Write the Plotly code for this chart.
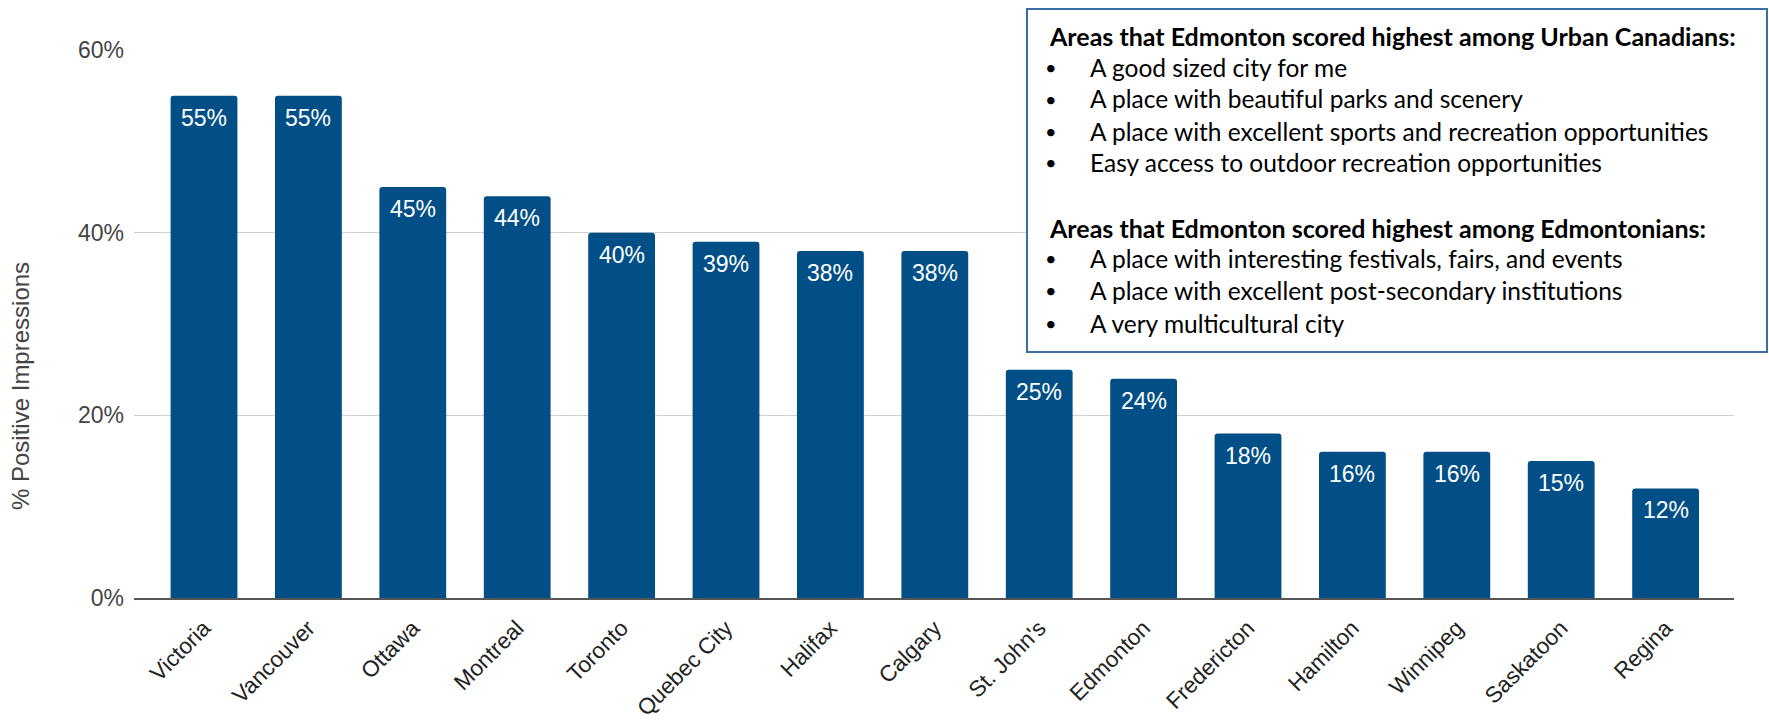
import plotly.graph_objects as go

cities = ["Victoria", "Vancouver", "Ottawa", "Montreal", "Toronto", "Quebec City",
          "Halifax", "Calgary", "St. John's", "Edmonton", "Fredericton", "Hamilton",
          "Winnipeg", "Saskatoon", "Regina"]
values = [55, 55, 45, 44, 40, 39, 38, 38, 25, 24, 18, 16, 16, 15, 12]
y_ticks = [0, 20, 40, 60]
y_tick_labels = ["0%", "20%", "40%", "60%"]

heading1 = "Areas that Edmonton scored highest among Urban Canadians:"
bullets1 = ["A good sized city for me",
            "A place with beautiful parks and scenery",
            "A place with excellent sports and recreation opportunities",
            "Easy access to outdoor recreation opportunities"]
heading2 = "Areas that Edmonton scored highest among Edmontonians:"
bullets2 = ["A place with interesting festivals, fairs, and events",
            "A place with excellent post-secondary institutions",
            "A very multicultural city"]

W, H = 1769, 720
ML, MR, MT, MB = 134, 35, 50, 122
PW, PH = W - ML - MR, H - MT - MB

def px(x):
    return (x - ML) / PW

def py(y):
    return (H - MB - y) / PH

BAR = "#024F88"
AX_FONT = "Liberation Sans, Arial, sans-serif"
BOX_FONT = "Lato, Open Sans, sans-serif"

fig = go.Figure()
fig.add_trace(go.Bar(
    x=cities, y=values,
    marker=dict(color=BAR, cornerradius=3, line=dict(width=0)),
    hoverinfo="skip",
))

annotations = []
for c, v in zip(cities, values):
    annotations.append(dict(x=c, y=v, xref="x", yref="y", text=f"{v}%",
                            showarrow=False, yanchor="middle", yshift=-22,
                            font=dict(family=AX_FONT, size=23, color="white")))

annotations.append(dict(x=px(21), y=py(386), xref="paper", yref="paper",
                        text="% Positive Impressions", textangle=-90,
                        showarrow=False, xanchor="center", yanchor="middle",
                        font=dict(family=AX_FONT, size=24, color="#444444")))

# text box content
lines = [(heading1, 36, True)]
lines += [(b, y, False) for b, y in zip(bullets1, [67, 99, 131, 162])]
lines += [(heading2, 228, True)]
lines += [(b, y, False) for b, y in zip(bullets2, [258, 290, 323])]
for text, y, bold in lines:
    if bold:
        annotations.append(dict(x=px(1047), y=py(y), xref="paper", yref="paper",
                                text=f"<b>{text}</b>", showarrow=False,
                                xanchor="left", yanchor="middle",
                                font=dict(family=BOX_FONT, size=25, color="#000000")))
    else:
        annotations.append(dict(x=px(1051), y=py(y), xref="paper", yref="paper",
                                text="•", showarrow=False,
                                xanchor="center", yanchor="middle",
                                font=dict(family=BOX_FONT, size=20, color="#000000")))
        annotations.append(dict(x=px(1088), y=py(y), xref="paper", yref="paper",
                                text=text, showarrow=False,
                                xanchor="left", yanchor="middle",
                                font=dict(family=BOX_FONT, size=24.5, color="#000000")))

shapes = [dict(type="rect", xref="paper", yref="paper",
               x0=px(1027), x1=px(1767), y0=py(352), y1=py(9),
               fillcolor="white", line=dict(color="#3A6EA5", width=2), layer="above")]

fig.update_layout(
    width=W, height=H,
    margin=dict(l=ML, r=MR, t=MT, b=MB, pad=0),
    paper_bgcolor="white", plot_bgcolor="white",
    showlegend=False,
    bargap=0.36,
    annotations=annotations,
    shapes=shapes,
    xaxis=dict(range=[-0.6705, 14.655], tickangle=-45, showgrid=False,
               showline=True, linecolor="#555555", linewidth=2, automargin=False,
               ticks="", ticklabelstandoff=6,
               tickfont=dict(family=AX_FONT, size=22.5, color="#222222"),
               fixedrange=True),
    yaxis=dict(range=[0, 60], tickvals=y_ticks, ticktext=y_tick_labels,
               showgrid=True, gridcolor="#D0D0D0", gridwidth=1, automargin=False,
               zeroline=False, showline=False, ticks="", ticklabelstandoff=9,
               tickfont=dict(family=AX_FONT, size=23, color="#444444"),
               fixedrange=True),
)

fig.write_html("out.html", config={"displayModeBar": False},
               post_script="document.body.style.margin='0px';document.body.style.padding='0px';")
